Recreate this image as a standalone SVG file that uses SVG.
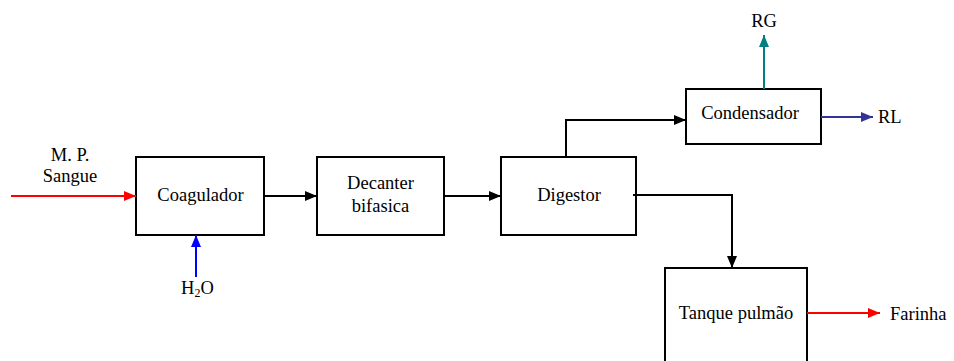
<svg xmlns="http://www.w3.org/2000/svg" width="954" height="361" viewBox="0 0 954 361">
<style>
text{font-family:'Liberation Serif','Times New Roman',serif;font-size:18.5px;fill:#000}
.box{fill:#fff;stroke:#000;stroke-width:2}
.ln{fill:none;stroke-width:2}
</style>
<defs>
<marker id="ak" markerWidth="12" markerHeight="10" refX="12" refY="5" orient="auto" markerUnits="userSpaceOnUse"><path d="M0,0L12,5L0,10Z" fill="#000"/></marker>
<marker id="ar" markerWidth="12" markerHeight="10" refX="12" refY="5" orient="auto" markerUnits="userSpaceOnUse"><path d="M0,0L12,5L0,10Z" fill="#f00"/></marker>
<marker id="ab" markerWidth="12" markerHeight="10" refX="12" refY="5" orient="auto" markerUnits="userSpaceOnUse"><path d="M0,0L12,5L0,10Z" fill="#00f"/></marker>
<marker id="at" markerWidth="12" markerHeight="10" refX="12" refY="5" orient="auto" markerUnits="userSpaceOnUse"><path d="M0,0L12,5L0,10Z" fill="#008080"/></marker>
<marker id="an" markerWidth="12" markerHeight="10" refX="12" refY="5" orient="auto" markerUnits="userSpaceOnUse"><path d="M0,0L12,5L0,10Z" fill="#333399"/></marker>
</defs>
<g id="coagulador"><rect class="box" x="136" y="157" width="128" height="78"/><text x="200.5" y="201" text-anchor="middle">Coagulador</text></g>
<g id="decanter"><rect class="box" x="317" y="157" width="127" height="78"/><text x="380.5" y="189" text-anchor="middle">Decanter</text><text x="380.5" y="211.5" text-anchor="middle">bifasica</text></g>
<g id="digestor"><rect class="box" x="501" y="157" width="135" height="78"/><text x="569" y="200.5" text-anchor="middle">Digestor</text></g>
<g id="condensador"><rect class="box" x="686" y="89" width="135" height="55"/><text x="750" y="118.5" text-anchor="middle">Condensador</text></g>
<g id="tanque"><rect class="box" x="665" y="268" width="142" height="100"/><text x="736" y="318.5" text-anchor="middle">Tanque pulmão</text></g>
<g id="labels">
<text x="70" y="160.5" text-anchor="middle">M. P.</text>
<text x="70" y="182" text-anchor="middle">Sangue</text>
<text x="181" y="294">H<tspan font-size="12" dy="3">2</tspan><tspan dy="-3">O</tspan></text>
<text x="764" y="26.5" text-anchor="middle">RG</text>
<text x="878" y="123">RL</text>
<text x="890" y="320">Farinha</text>
</g>
<g id="connectors">
<path class="ln" stroke="#f00" d="M11,196H136" marker-end="url(#ar)"/>
<path class="ln" stroke="#00f" d="M196,277V235" marker-end="url(#ab)"/>
<path class="ln" stroke="#000" d="M264,196H317" marker-end="url(#ak)"/>
<path class="ln" stroke="#000" d="M444,196H501" marker-end="url(#ak)"/>
<path class="ln" stroke="#000" d="M566,157V120H686" marker-end="url(#ak)"/>
<path class="ln" stroke="#000" d="M633,195H732V268" marker-end="url(#ak)"/>
<path class="ln" stroke="#008080" d="M764,89V35" marker-end="url(#at)"/>
<path class="ln" stroke="#333399" d="M821,117H873" marker-end="url(#an)"/>
<path class="ln" stroke="#f00" d="M807,313H880" marker-end="url(#ar)"/>
</g>
</svg>
